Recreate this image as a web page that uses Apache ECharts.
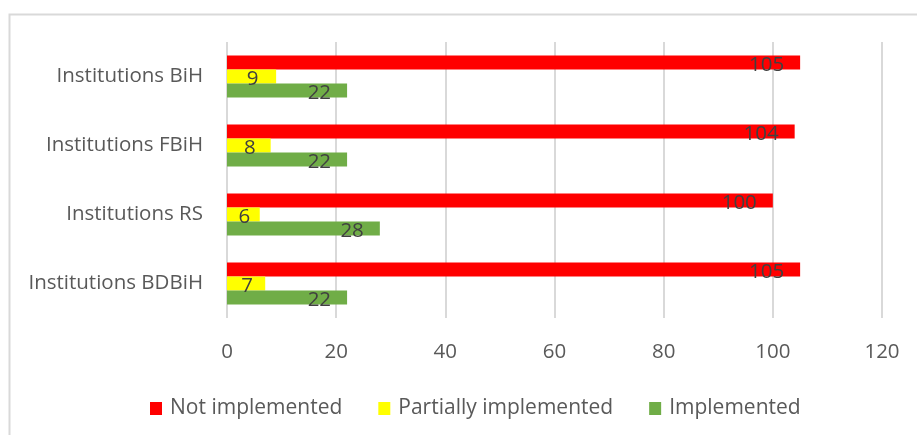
<!DOCTYPE html>
<html>
<head>
<meta charset="utf-8">
<script src="https://cdn.jsdelivr.net/npm/echarts@6/dist/echarts.min.js"></script>
<style>
html,body{margin:0;padding:0;background:#fff;}
#main{width:917px;height:435px;}
</style>
</head>
<body>
<div id="main"></div>
<script>
var categories=["Institutions BDBiH","Institutions RS","Institutions FBiH","Institutions BiH"];
var notImplemented=[105,100,104,105];
var partially=[7,6,8,9];
var implemented=[22,28,22,22];
var xTicks=[0,20,40,60,80,100,120];

var font="Open Sans";
var myChart=echarts.init(document.getElementById("main"));

var label=function(dist){
    return {show:true,position:"insideRight",distance:dist,color:"#404040",fontFamily:font,fontSize:20.5,offset:[0,3]};
};

var option={
    animation:false,
    textStyle:{fontFamily:font},
    graphic:[{
        type:"polyline",
        shape:{points:[[9.5,435],[9.5,14.5],[917,14.5]]},
        style:{stroke:"#d9d9d9",lineWidth:2,fill:null}
    }],
    grid:{left:227,right:35,top:42,bottom:117,containLabel:false},
    legend:{
        left:145,top:393,
        itemWidth:12,itemHeight:13,itemGap:36,
        icon:"rect",
        textStyle:{color:"#595959",fontSize:21,fontFamily:font,padding:[0,0,0,3]},
        data:["Not implemented","Partially implemented","Implemented"]
    },
    xAxis:{
        type:"value",min:xTicks[0],max:xTicks[xTicks.length-1],interval:20,
        axisLine:{show:false},axisTick:{show:false},
        axisLabel:{color:"#595959",fontSize:20.5,margin:24,fontFamily:font},
        splitLine:{lineStyle:{color:"#d9d9d9",width:2}}
    },
    yAxis:{
        type:"category",data:categories,
        axisLine:{show:false},axisTick:{show:false},
        axisLabel:{color:"#595959",fontSize:20.5,margin:24,fontFamily:font}
    },
    series:[{
        name:"Not implemented",type:"bar",data:notImplemented,
        itemStyle:{color:"#ff0000"},barGap:"0%",barCategoryGap:"39%",
        label:label(16)
    },{
        name:"Partially implemented",type:"bar",data:partially,
        itemStyle:{color:"#ffff00"},
        label:{show:true,position:"inside",color:"#404040",fontFamily:font,fontSize:20.5,offset:[1,3]}
    },{
        name:"Implemented",type:"bar",data:implemented,
        itemStyle:{color:"#70ad47"},
        label:label(16)
    }]
};

myChart.setOption(option);
</script>
</body>
</html>
